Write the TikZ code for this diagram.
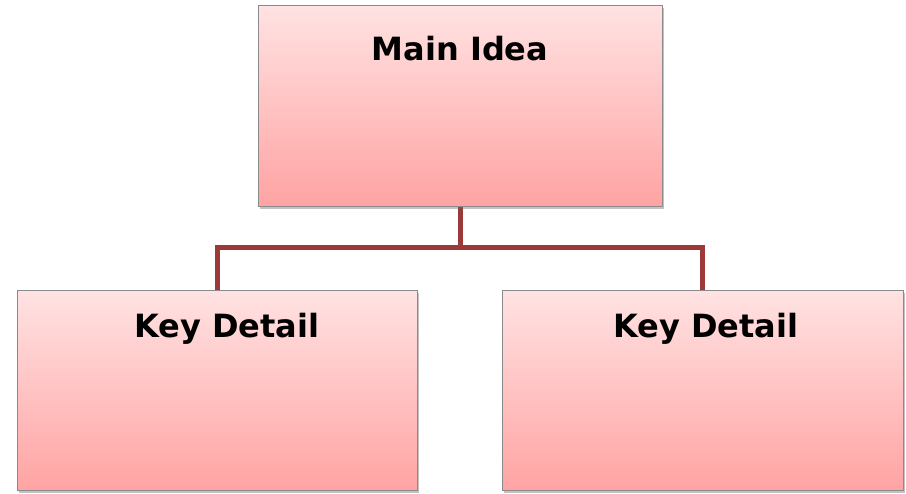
\documentclass[tikz,border=0pt]{standalone}
\usepackage{fontspec}
\setmainfont{DejaVu Sans}
\usetikzlibrary{shadows}
\definecolor{boxtop}{HTML}{FFE2E2}
\definecolor{boxbot}{HTML}{FFA3A3}
\definecolor{linkcol}{HTML}{9C3A3A}
\definecolor{edgecol}{HTML}{8A8A8A}
\tikzset{
  box/.style={draw=edgecol, line width=1pt, top color=boxtop, bottom color=boxbot,
    drop shadow={shadow xshift=2pt, shadow yshift=-2pt, opacity=0.4, fill=black!60}},
  lbl/.style={font=\bfseries\fontsize{32}{36}\selectfont, anchor=base, inner sep=0pt},
  link/.style={draw=linkcol, line width=5pt}
}
\begin{document}
\begin{tikzpicture}[x=1pt,y=1pt]
\useasboundingbox (0,0) rectangle (906,-494);
\coordinate (mainb) at (460,-207);
\coordinate (lt) at (217.5,-290);
\coordinate (rt) at (702.5,-290);
\coordinate (bar) at (460,-248);
\draw[link] (mainb) -- (bar);
\draw[link, line join=miter] (lt) |- (bar) -| (rt);
\path[box] (258,-6) rectangle (662,-207);
\path[box] (17,-291) rectangle (417,-491);
\path[box] (502,-291) rectangle (903,-491);
\node[lbl] (main) at (460,-61) {Main Idea};
\node[lbl] (kd1) at (227,-338) {Key Detail};
\node[lbl] (kd2) at (706,-338) {Key Detail};
\end{tikzpicture}
\end{document}
